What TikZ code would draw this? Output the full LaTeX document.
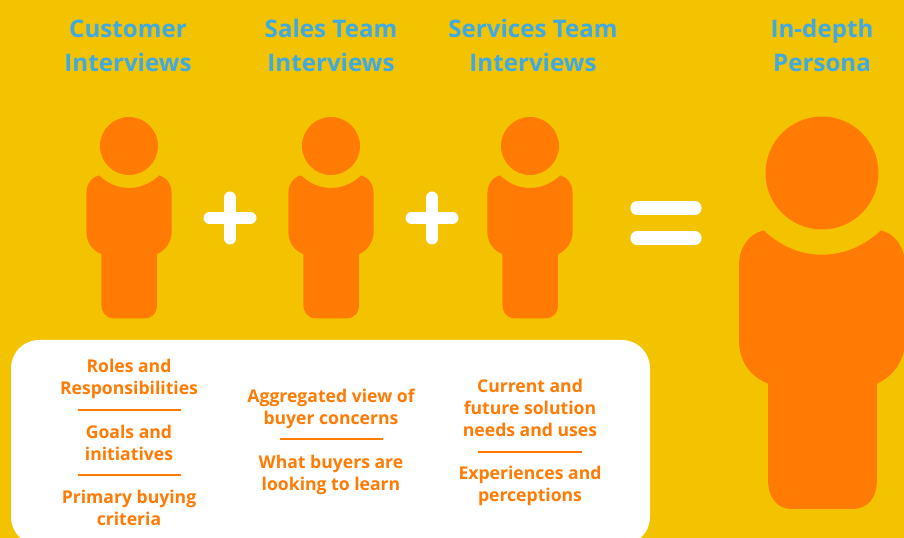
\documentclass[tikz,border=0pt]{standalone}
\usepackage{fontspec}
\setmainfont{Open Sans}
\definecolor{bgc}{HTML}{F4C300}
\definecolor{orng}{HTML}{FF7B04}
\definecolor{ttl}{HTML}{3FA9E3}
\newcommand{\figperson}[3]{%
  \begin{scope}[shift={(#1,#2)},scale=#3]
    \fill[orng] (0,0) circle (56.5);
    \fill[orng] (-58.3,57.3) .. controls (-42,73) and (-22,81.7) .. (0,81.7)
      .. controls (22,81.7) and (42,73) .. (59,57.3)
      .. controls (73,61) and (83,74) .. (83,92) -- (83,160)
      .. controls (84.5,172) and (82,198) .. (55,210.7) -- (55,306)
      .. controls (55,325) and (46,336) .. (30,336) -- (-30,336)
      .. controls (-45,336) and (-54,325) .. (-54,306) -- (-54,210.7)
      .. controls (-72,203) and (-85,188) .. (-83,160) -- (-83,92)
      .. controls (-83,74) and (-73,61) .. (-58.3,57.3) -- cycle;
  \end{scope}}
\tikzset{
  x=0.75pt,y=-0.75pt,
  title/.style={font=\fontsize{18.1pt}{25.5pt}\selectfont\bfseries,text=ttl,align=center,inner sep=0},
  body/.style={font=\fontsize{13.2pt}{16.5pt}\selectfont\bfseries,text=orng,align=center,inner sep=0},
  sign/.style={white,line width=9pt,line cap=round},
  rule/.style={orng,line width=1.5pt}
}
\begin{document}
\begin{tikzpicture}
\useasboundingbox (0,0) rectangle (904,538);
\clip (0,0) rectangle (904,538);
\fill[bgc] (0,0) rectangle (904,538);
\node[title] (t1) at (128,46) {Customer\\Interviews};
\node[title] (t2) at (331,45) {Sales Team\\Interviews};
\node[title] (t3) at (533,45) {Services Team\\Interviews};
\node[title] (t4) at (822,45) {In-depth\\Persona};
\figperson{129}{146}{0.513}
\figperson{331}{146}{0.513}
\figperson{530}{146}{0.513}
\figperson{822}{173}{1}
\draw[sign] (209.5,218) -- (250.5,218);
\draw[sign] (230,197.5) -- (230,238.5);
\draw[sign] (411.5,218) -- (452.5,218);
\draw[sign] (432,197.5) -- (432,238.5);
\draw[white,line width=10pt,line cap=round] (637,208) -- (695,208);
\draw[white,line width=10pt,line cap=round] (637,238) -- (695,238);
\fill[white,rounded corners=21pt] (11,340) rectangle (650,545);
\node[body] (a1) at (129,378.5) {Roles and\\Responsibilities};
\draw[rule] (77.5,410) -- (181,410);
\node[body] (a2) at (129,442.5) {Goals and\\initiatives};
\draw[rule] (77.5,475.3) -- (181,475.3);
\node[body] (a3) at (129,507.5) {Primary buying\\criteria};
\node[body] (b1) at (331,409) {Aggregated view of\\buyer concerns};
\draw[rule] (279.5,439.5) -- (383,439.5);
\node[body] (b2) at (331,474.5) {What buyers are\\looking to learn};
\node[body] (c1) at (530,408) {Current and\\future solution\\needs and uses};
\draw[rule] (478,452) -- (582,452);
\node[body] (c2) at (530,485.5) {Experiences and\\perceptions};
\end{tikzpicture}
\end{document}
